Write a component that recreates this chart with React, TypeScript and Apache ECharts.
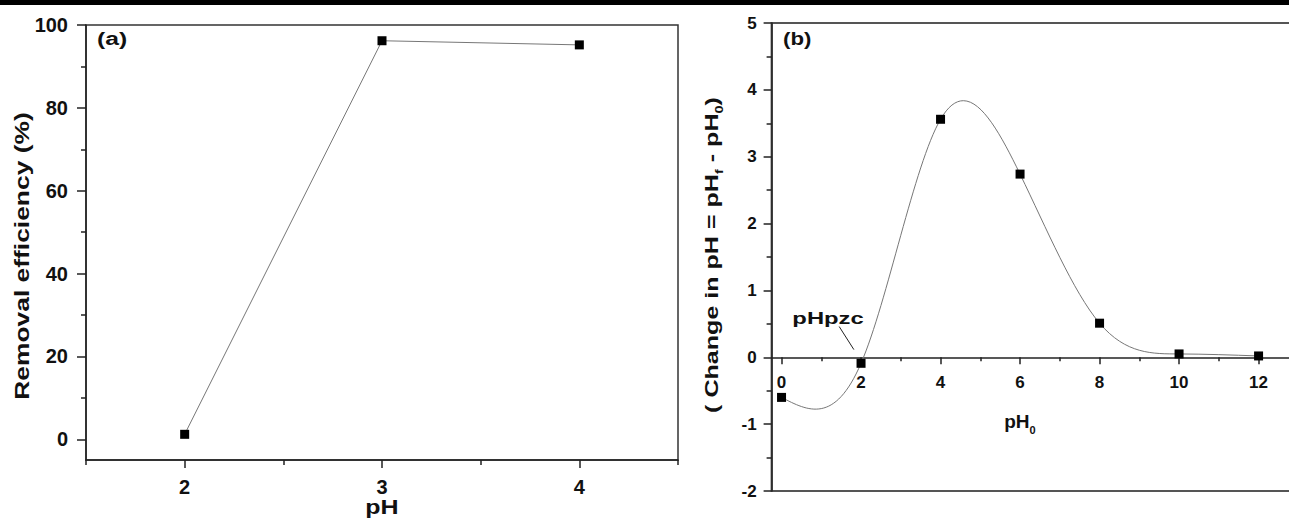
import React, { useEffect, useRef } from "react";
import * as echarts from "echarts";

// Panel (a): removal efficiency against solution pH
const phA = [2, 3, 4];
const removalEfficiency = [1.2, 96.2, 95.2];
const aXTicks = [2, 3, 4];
const aXMinorTicks = [1.5, 2.5, 3.5, 4.5];
const aYTicks = [0, 20, 40, 60, 80, 100];
const aYMinorTicks = [10, 30, 50, 70, 90];

// Panel (b): point of zero charge, change in pH against initial pH
const ph0 = [0, 2, 4, 6, 8, 10, 12];
const deltaPh = [-0.6, -0.09, 3.56, 2.74, 0.51, 0.05, 0.02];
const bXTicks = [0, 2, 4, 6, 8, 10, 12];
const bXMinorTicks = [1, 3, 5, 7, 9, 11, 13];

// pHpzc annotation: label centre and arrow from/to (data coordinates)
const pzcLabel = [1.17, 0.59];
const pzcArrowFrom = [1.45, 0.46];
const pzcArrowTo = [1.82, 0.115];

const FONT = '"Liberation Sans", Arial, Helvetica, sans-serif';
const INK = "#111";
const AXIS = "#222";

// Knot slopes of a natural cubic spline through (xs, ys), so each segment
// can be drawn as one cubic Bezier curve.
function splineSlopes(xs: number[], ys: number[]): number[] {
  const n = xs.length;
  const h = xs.slice(1).map((x, i) => x - xs[i]);
  const m = new Array(n).fill(0); // second derivatives, natural ends
  const c: number[] = new Array(n).fill(0);
  const d: number[] = new Array(n).fill(0);
  for (let i = 1; i < n - 1; i++) {
    const a = h[i - 1];
    const b = 2 * (h[i - 1] + h[i]);
    const cc = h[i];
    const r = 6 * ((ys[i + 1] - ys[i]) / h[i] - (ys[i] - ys[i - 1]) / h[i - 1]);
    const den = b - a * c[i - 1];
    c[i] = cc / den;
    d[i] = (r - a * d[i - 1]) / den;
  }
  for (let i = n - 2; i >= 1; i--) m[i] = d[i] - c[i] * m[i + 1];
  const slopes: number[] = [];
  for (let i = 0; i < n - 1; i++) {
    slopes[i] = (ys[i + 1] - ys[i]) / h[i] - (h[i] * (2 * m[i] + m[i + 1])) / 6;
  }
  const k = n - 2;
  slopes[n - 1] = (ys[k + 1] - ys[k]) / h[k] + (h[k] * (m[k] + 2 * m[k + 1])) / 6;
  return slopes;
}

const subRich = {
  m: { fontSize: 19, fontWeight: "bold", fill: INK, color: INK, fontFamily: FONT, lineHeight: 20, verticalAlign: "top" },
  s: { fontSize: 11, fontWeight: "bold", fill: INK, color: INK, fontFamily: FONT, lineHeight: 11, padding: [12, 0, 0, 0], verticalAlign: "top" },
};

export default function App() {
  const ref = useRef<HTMLDivElement>(null);

  useEffect(() => {
    if (!ref.current) return;
    const chart = echarts.init(ref.current, undefined, { renderer: "svg" });
    const slopes = splineSlopes(ph0, deltaPh);
    const bZeroOffset = -(2 / 7) * 468; // x axis of (b) crosses y = 0

    const tickLabel = (size: number, margin: number, values?: number[]) => ({
      ...(values ? { customValues: values } : {}),
      fontSize: size,
      fontWeight: "bold",
      color: INK,
      fontFamily: FONT,
      margin,
    });
    const ticks = (values: number[], length: number) => ({
      show: true,
      customValues: values,
      length,
      lineStyle: { color: AXIS, width: 1.5 },
    });

    const option: any = {
      animation: false,
      backgroundColor: "#fff",
      textStyle: { fontFamily: FONT },
      grid: [
        {
          left: 86, top: 25, width: 592, height: 435, outerBoundsMode: "none",
          show: true, borderColor: "#333", borderWidth: 1.5,
        },
        {
          left: 771.6, top: 23, width: 546.6, height: 468, outerBoundsMode: "none",
          show: true, borderColor: "#555", borderWidth: 2,
        },
      ],
      xAxis: [
        {
          gridIndex: 0, type: "value", position: "bottom", min: 1.5, max: 4.5,
          axisLine: { onZero: false, lineStyle: { color: AXIS, width: 1.5 } },
          axisTick: ticks(aXTicks, 8),
          axisLabel: tickLabel(20, 17, aXTicks),
          splitLine: { show: false },
        },
        {
          gridIndex: 0, type: "value", position: "bottom", min: 1.5, max: 4.5,
          axisLine: { show: false, onZero: false },
          axisTick: ticks(aXMinorTicks, 5),
          axisLabel: { show: false },
          splitLine: { show: false },
        },
        {
          gridIndex: 1, type: "value", position: "bottom", offset: bZeroOffset,
          min: -0.25, max: 13.5,
          name: "{m|pH}{s|0}", nameLocation: "middle", nameGap: 55,
          nameTextStyle: { rich: subRich, padding: [0, 50, 0, 0] },
          axisLine: { onZero: false, lineStyle: { color: AXIS, width: 1.5 } },
          axisTick: ticks(bXTicks, 7),
          axisLabel: tickLabel(17, 17, bXTicks),
          splitLine: { show: false },
        },
        {
          gridIndex: 1, type: "value", position: "bottom", offset: bZeroOffset,
          min: -0.25, max: 13.5,
          axisLine: { show: false, onZero: false },
          axisTick: ticks(bXMinorTicks, 4),
          axisLabel: { show: false },
          splitLine: { show: false },
        },
      ],
      yAxis: [
        {
          gridIndex: 0, type: "value", position: "left", min: -5, max: 100,
          axisLine: { onZero: false, lineStyle: { color: AXIS, width: 1.5 } },
          axisTick: ticks(aYTicks, 9),
          axisLabel: tickLabel(20, 18, aYTicks),
          splitLine: { show: false },
        },
        {
          gridIndex: 0, type: "value", position: "left", min: -5, max: 100,
          axisLine: { show: false, onZero: false },
          axisTick: ticks(aYMinorTicks, 5),
          axisLabel: { show: false },
          splitLine: { show: false },
        },
        {
          gridIndex: 1, type: "value", position: "left", min: -2, max: 5, interval: 1,
          axisLine: { onZero: false, lineStyle: { color: AXIS, width: 1.5 } },
          axisTick: { show: true, length: 8, lineStyle: { color: AXIS, width: 1.5 } },
          minorTick: { show: true, splitNumber: 2, length: 5, lineStyle: { color: AXIS, width: 1.5 } },
          axisLabel: tickLabel(17, 15),
          splitLine: { show: false },
        },
      ],
      series: [
        {
          type: "line",
          xAxisIndex: 0, yAxisIndex: 0,
          data: phA.map((x, i) => [x, removalEfficiency[i]]),
          symbol: "rect", symbolSize: 9,
          itemStyle: { color: "#000", opacity: 1 },
          lineStyle: { color: "#777", width: 1 },
          z: 5,
        },
        {
          // spline connecting the pH0 points, one Bezier segment per interval
          type: "custom",
          xAxisIndex: 2, yAxisIndex: 2,
          data: ph0.map((x, i) => [x, deltaPh[i]]),
          encode: { x: 0, y: 1 },
          silent: true,
          z: 3,
          renderItem: (params: any, api: any) => {
            const i = params.dataIndex;
            if (i >= ph0.length - 1) return null;
            const x0 = ph0[i], x1 = ph0[i + 1];
            const y0 = deltaPh[i], y1 = deltaPh[i + 1];
            const h = x1 - x0;
            const p0 = api.coord([x0, y0]);
            const c0 = api.coord([x0 + h / 3, y0 + (slopes[i] * h) / 3]);
            const c1 = api.coord([x1 - h / 3, y1 - (slopes[i + 1] * h) / 3]);
            const p1 = api.coord([x1, y1]);
            return {
              type: "bezierCurve",
              shape: {
                x1: p0[0], y1: p0[1], cpx1: c0[0], cpy1: c0[1],
                cpx2: c1[0], cpy2: c1[1], x2: p1[0], y2: p1[1],
              },
              style: { stroke: "#777", lineWidth: 1, fill: "none" },
            };
          },
        },
        {
          type: "scatter",
          xAxisIndex: 2, yAxisIndex: 2,
          data: ph0.map((x, i) => [x, deltaPh[i]]),
          symbol: "rect", symbolSize: 9,
          itemStyle: { color: "#000", opacity: 1 },
          z: 5,
          markLine: {
            silent: true,
            symbol: ["none", "arrow"],
            symbolSize: [0, 8],
            label: { show: false },
            lineStyle: { color: "#222", width: 1, type: "solid" },
            data: [[{ coord: pzcArrowFrom }, { coord: pzcArrowTo }]],
          },
        },
      ],
    };

    chart.setOption(option);

    const [lx, ly] = chart.convertToPixel({ xAxisIndex: 2, yAxisIndex: 2 } as any, pzcLabel) as number[];
    const [phX] = chart.convertToPixel({ xAxisIndex: 0, yAxisIndex: 0 } as any, [3, 0]) as number[];

    chart.setOption({
      graphic: [
        { id: "band", type: "rect", shape: { x: 0, y: 0, width: 1289, height: 5 }, style: { fill: "#000" } },
        {
          id: "tagA", type: "text", x: 97, y: 39, scaleX: 1.3,
          style: { text: "(a)", fontSize: 19, fontWeight: "bold", fill: INK, fontFamily: FONT, align: "left", verticalAlign: "middle" },
        },
        {
          id: "tagB", type: "text", x: 783, y: 38, scaleX: 1.17,
          style: { text: "(b)", fontSize: 19, fontWeight: "bold", fill: INK, fontFamily: FONT, align: "left", verticalAlign: "middle" },
        },
        {
          id: "titleA", type: "text", x: 22, y: 256, rotation: Math.PI / 2, scaleX: 1.32,
          style: {
            text: "Removal efficiency (%)", fontSize: 20, fontWeight: "bold", fill: INK,
            fontFamily: FONT, align: "center", verticalAlign: "middle",
          },
        },
        {
          id: "xTitleA", type: "text", x: phX, y: 517, scaleX: 1.25,
          style: {
            text: "pH", fontSize: 20, fontWeight: "bold", fill: INK,
            fontFamily: FONT, align: "center", verticalAlign: "bottom",
          },
        },
        {
          id: "titleB", type: "text", x: 712, y: 255, rotation: Math.PI / 2, scaleX: 1.32,
          style: {
            text: "{m|( Change in pH = pH}{s|f}{m| - pH}{s|0}{m|)}",
            rich: subRich, align: "center", verticalAlign: "middle",
          },
        },
        {
          id: "pzc", type: "text", x: lx, y: ly, scaleX: 1.4,
          style: {
            text: "pHpzc", fontSize: 17, fontWeight: "bold", fill: INK,
            fontFamily: FONT, align: "center", verticalAlign: "middle",
          },
        },
      ],
    });

    return () => chart.dispose();
  }, []);

  return (
    <div
      ref={ref}
      style={{ position: "fixed", left: 0, top: 0, width: 1289, height: 520, background: "#fff" }}
    />
  );
}
